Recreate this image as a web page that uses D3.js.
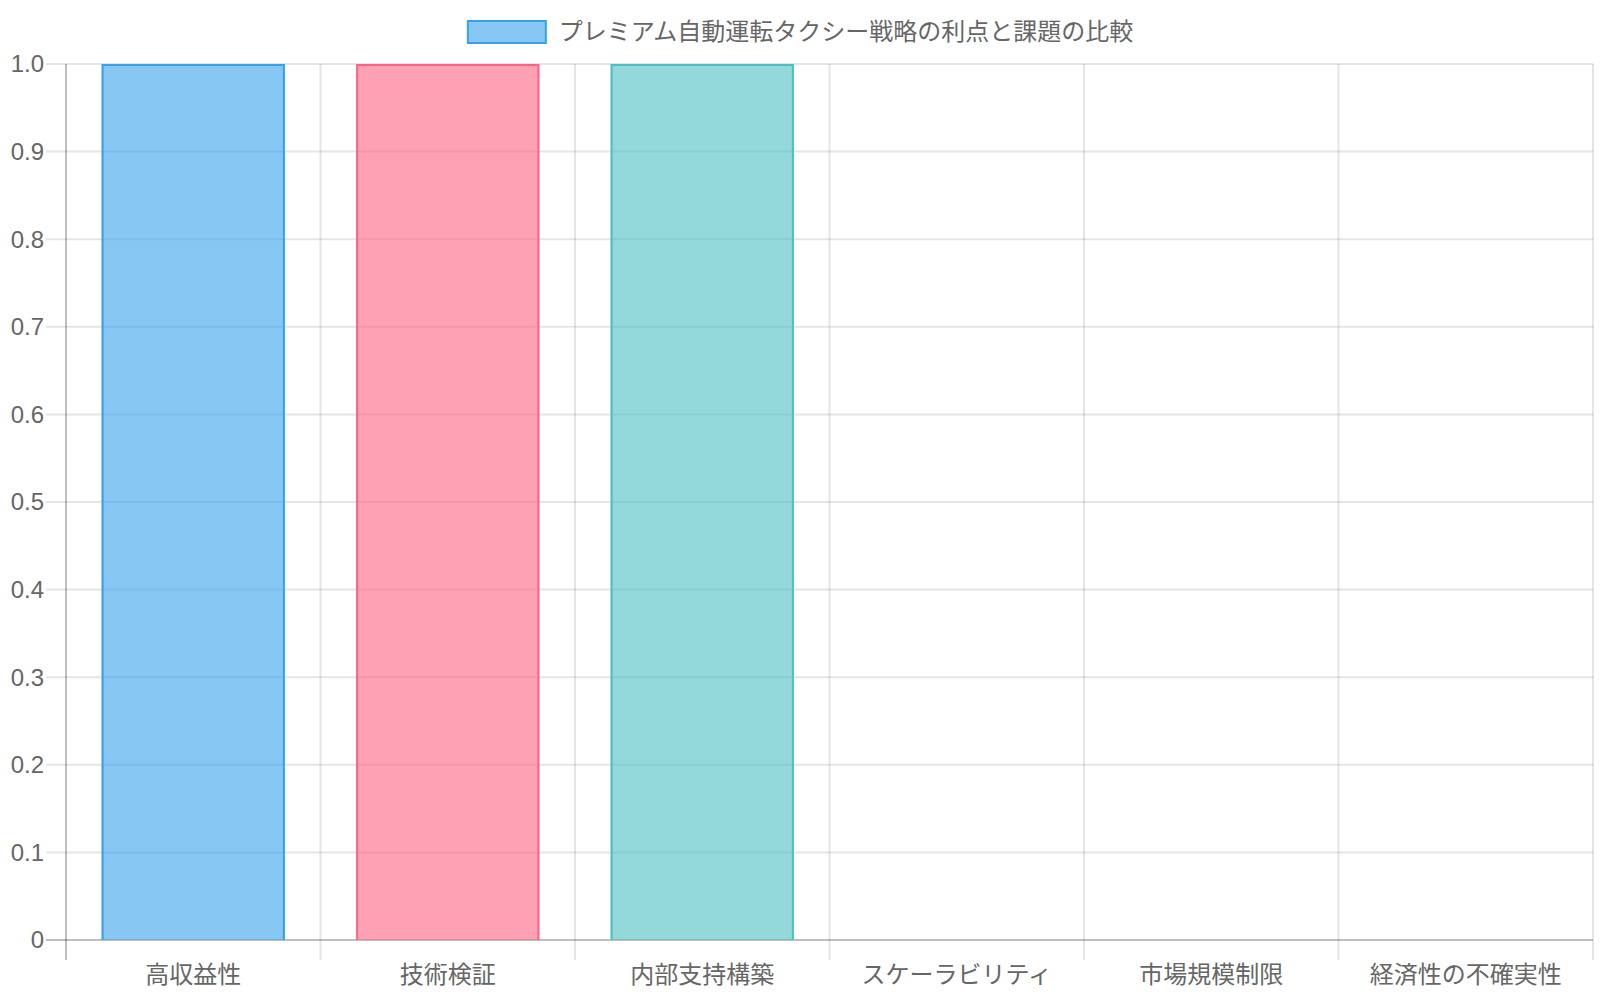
<!DOCTYPE html>
<html>
<head>
<meta charset="utf-8">
<script src="https://cdn.jsdelivr.net/npm/d3@7"></script>
<style>
  html, body { margin: 0; padding: 0; background: #fff; }
  svg { display: block; font-family: "Liberation Sans", Arial, "Noto Sans CJK JP", sans-serif; }
</style>
</head>
<body>
<svg id="chart" width="1600" height="1000"></svg>
<script>
const categories = ["高収益性", "技術検証", "内部支持構築", "スケーラビリティ", "市場規模制限", "経済性の不確実性"];
const values = [1, 1, 1, 0, 0, 0];
const seriesLabel = "プレミアム自動運転タクシー戦略の利点と課題の比較";
const yTicks = [0, 0.1, 0.2, 0.3, 0.4, 0.5, 0.6, 0.7, 0.8, 0.9, 1.0];
const barColors = [
  [54, 162, 235], [255, 99, 132], [75, 192, 192],
  [255, 159, 64], [153, 102, 255], [201, 203, 207]
];

const svg = d3.select("#chart");
const plotL = 66, plotR = 1593, plotT = 64, plotB = 940;

const x = d3.scaleBand().domain(categories).range([plotL, plotR]);
const y = d3.scaleLinear().domain([0, 1]).range([plotB, plotT]);
const barW = x.bandwidth() * 0.8 * 0.9;

const rgba = (c, a) => `rgba(${c[0]},${c[1]},${c[2]},${a})`;

// horizontal grid + y ticks
svg.append("g")
  .selectAll("line")
  .data(yTicks)
  .join("line")
    .attr("x1", plotL - 20).attr("x2", plotR)
    .attr("y1", d => y(d)).attr("y2", d => y(d))
    .attr("stroke", d => d === 0 ? "rgba(0,0,0,0.25)" : "rgba(0,0,0,0.1)")
    .attr("stroke-width", 2);

// vertical grid lines between categories
const edges = categories.map(c => x(c)).concat([plotR]);
svg.append("g")
  .selectAll("line")
  .data(edges)
  .join("line")
    .attr("x1", d => d).attr("x2", d => d)
    .attr("y1", plotT).attr("y2", plotB + 20)
    .attr("stroke", (d, i) => i === 0 ? "rgba(0,0,0,0.25)" : "rgba(0,0,0,0.1)")
    .attr("stroke-width", 2);

// bars
const bars = svg.append("g");
categories.forEach((c, i) => {
  if (!values[i]) return;
  const x0 = x(c) + (x.bandwidth() - barW) / 2;
  const y0 = y(values[i]);
  bars.append("rect")
    .attr("x", x0).attr("y", y0)
    .attr("width", barW).attr("height", y(0) - y0)
    .attr("fill", rgba(barColors[i], 0.6));
  bars.append("path")
    .attr("d", `M${x0 + 1},${y(0)}V${y0 + 1}H${x0 + barW - 1}V${y(0)}`)
    .attr("fill", "none")
    .attr("stroke", rgba(barColors[i], 1))
    .attr("stroke-width", 2);
});

// y tick labels
svg.append("g")
  .selectAll("text")
  .data(yTicks)
  .join("text")
    .attr("x", 44)
    .attr("y", d => y(d))
    .attr("dy", "0.35em")
    .attr("text-anchor", "end")
    .attr("font-size", 24)
    .attr("fill", "#666")
    .text(d => d === 0 ? "0" : d3.format(".1f")(d));

// x tick labels
svg.append("g")
  .selectAll("text")
  .data(categories)
  .join("text")
    .attr("x", d => x(d) + x.bandwidth() / 2)
    .attr("y", 983)
    .attr("text-anchor", "middle")
    .attr("font-size", 24)
    .attr("fill", "#666")
    .text(d => d);

// legend
const legend = svg.append("g");
const lt = legend.append("text")
  .attr("y", 32)
  .attr("dy", "0.35em")
  .attr("font-size", 24)
  .attr("fill", "#666")
  .text(seriesLabel);
const tw = lt.node().getComputedTextLength();
const lx = (1600 - (80 + 12 + tw + 20)) / 2 + 10;
legend.append("rect")
  .attr("x", lx + 1).attr("y", 21)
  .attr("width", 78).attr("height", 22)
  .attr("fill", rgba(barColors[0], 0.6))
  .attr("stroke", rgba(barColors[0], 1))
  .attr("stroke-width", 2);
lt.attr("x", lx + 80 + 12);
</script>
</body>
</html>
